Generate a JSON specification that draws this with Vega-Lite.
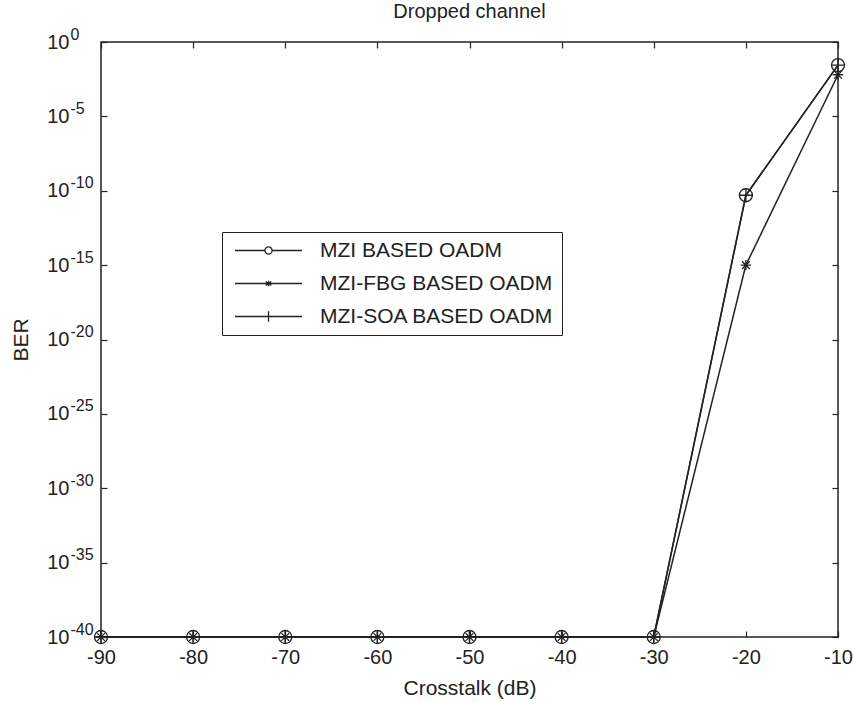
{
  "$schema": "https://vega.github.io/schema/vega-lite/v6.json",
  "width": 737,
  "height": 595,
  "autosize": "none",
  "padding": {"left": 101, "top": 42, "right": 16, "bottom": 65},
  "background": "white",
  "title": {"text": "Dropped channel", "fontSize": 20, "font": "Liberation Sans", "fontWeight": "normal", "color": "#222", "frame": "group", "anchor": "middle", "baseline": "alphabetic", "offset": -12},
  "config": {
    "view": {"stroke": "#222", "strokeWidth": 1.5},
    "font": "Liberation Sans",
    "axis": {"grid": false, "domain": false, "labelFont": "Liberation Sans", "titleFont": "Liberation Sans", "labelColor": "#222", "titleColor": "#222", "tickColor": "#222", "titleFontWeight": "normal", "labelFontSize": 20, "titleFontSize": 21, "tickSize": -6, "tickWidth": 1.2}
  },
  "data": {"values": [
    {"x": -90, "ber": 1e-40, "series": "MZI BASED OADM"},
    {"x": -80, "ber": 1e-40, "series": "MZI BASED OADM"},
    {"x": -70, "ber": 1e-40, "series": "MZI BASED OADM"},
    {"x": -60, "ber": 1e-40, "series": "MZI BASED OADM"},
    {"x": -50, "ber": 1e-40, "series": "MZI BASED OADM"},
    {"x": -40, "ber": 1e-40, "series": "MZI BASED OADM"},
    {"x": -30, "ber": 1e-40, "series": "MZI BASED OADM"},
    {"x": -20, "ber": 5e-11, "series": "MZI BASED OADM"},
    {"x": -10, "ber": 0.028, "series": "MZI BASED OADM"},
    {"x": -90, "ber": 1e-40, "series": "MZI-FBG BASED OADM"},
    {"x": -80, "ber": 1e-40, "series": "MZI-FBG BASED OADM"},
    {"x": -70, "ber": 1e-40, "series": "MZI-FBG BASED OADM"},
    {"x": -60, "ber": 1e-40, "series": "MZI-FBG BASED OADM"},
    {"x": -50, "ber": 1e-40, "series": "MZI-FBG BASED OADM"},
    {"x": -40, "ber": 1e-40, "series": "MZI-FBG BASED OADM"},
    {"x": -30, "ber": 1e-40, "series": "MZI-FBG BASED OADM"},
    {"x": -20, "ber": 1e-15, "series": "MZI-FBG BASED OADM"},
    {"x": -10, "ber": 0.0063, "series": "MZI-FBG BASED OADM"},
    {"x": -90, "ber": 1e-40, "series": "MZI-SOA BASED OADM"},
    {"x": -80, "ber": 1e-40, "series": "MZI-SOA BASED OADM"},
    {"x": -70, "ber": 1e-40, "series": "MZI-SOA BASED OADM"},
    {"x": -60, "ber": 1e-40, "series": "MZI-SOA BASED OADM"},
    {"x": -50, "ber": 1e-40, "series": "MZI-SOA BASED OADM"},
    {"x": -40, "ber": 1e-40, "series": "MZI-SOA BASED OADM"},
    {"x": -30, "ber": 1e-40, "series": "MZI-SOA BASED OADM"},
    {"x": -20, "ber": 5e-11, "series": "MZI-SOA BASED OADM"},
    {"x": -10, "ber": 0.028, "series": "MZI-SOA BASED OADM"}
  ]},
  "layer": [
    {
      "mark": {"type": "line", "color": "#222", "strokeWidth": 1.5, "clip": false},
      "encoding": {
        "x": {"field": "x", "type": "quantitative", "scale": {"domain": [-90, -10], "nice": false, "zero": false},
              "axis": {"orient": "bottom", "values": [-90, -80, -70, -60, -50, -40, -30, -20, -10], "labelExpr": "'' + datum.value", "labelPadding": 16, "labelFlush": false, "title": "Crosstalk (dB)", "titlePadding": 10}},
        "y": {"field": "ber", "type": "quantitative", "scale": {"type": "log", "domain": [1e-40, 1], "nice": false},
              "axis": {"orient": "left", "values": [1, 1e-5, 1e-10, 1e-15, 1e-20, 1e-25, 1e-30, 1e-35, 1e-40], "labelExpr": "'10'", "ticks": false, "labelPadding": 32, "labelAlign": "right", "labelBaseline": "middle", "title": "BER", "titlePadding": 15}},
        "detail": {"field": "series"}
      }
    },
    {
      "mark": {"type": "point", "filled": false, "color": "#222", "strokeWidth": 1.3, "size": 169, "opacity": 1, "clip": false},
      "encoding": {
        "x": {"field": "x", "type": "quantitative", "axis": {"orient": "top", "values": [-90, -80, -70, -60, -50, -40, -30, -20, -10], "labels": false, "title": null}},
        "y": {"field": "ber", "type": "quantitative", "scale": {"type": "log"}, "axis": {"orient": "right", "values": [1, 1e-5, 1e-10, 1e-15, 1e-20, 1e-25, 1e-30, 1e-35, 1e-40], "labels": false, "title": null}},
        "shape": {"field": "series", "type": "nominal",
                  "scale": {"domain": ["MZI BASED OADM", "MZI-FBG BASED OADM", "MZI-SOA BASED OADM"],
                            "range": ["circle", "M-0.8,0H0.8M0,-0.8V0.8M-0.6,-0.6L0.6,0.6M-0.6,0.6L0.6,-0.6", "M-1,0H1M0,-1V1"]},
                  "legend": null}
      }
    },
    {
      "mark": {"type": "point", "filled": false, "color": "#222", "opacity": 0},
      "encoding": {
        "x": {"field": "x", "type": "quantitative", "axis": null},
        "y": {"field": "ber", "type": "quantitative", "scale": {"type": "log"},
              "axis": {"orient": "left", "values": [1, 1e-5, 1e-10, 1e-15, 1e-20, 1e-25, 1e-30, 1e-35, 1e-40], "labelExpr": "'' + round(log(datum.value) / LN10)", "labelAlign": "left", "labelBaseline": "bottom", "labelPadding": 37, "labelFontSize": 16, "labelDy": -4, "title": null}},
        "shape": {"field": "series", "type": "nominal",
                  "scale": {"domain": ["MZI BASED OADM", "MZI-FBG BASED OADM", "MZI-SOA BASED OADM"],
                            "range": [
                              "M-1,0H4.45M5.75,0H11.2M4.45,0A0.65,0.65 0 1,0 5.75,0A0.65,0.65 0 1,0 4.45,0",
                              "M-1,0H11.2M5.1,-0.5V0.5M4.6,-0.35L5.6,0.35M4.6,0.35L5.6,-0.35",
                              "M-1,0H11.2M5.1,-0.95V0.95"
                            ]},
                  "legend": {"orient": "none", "legendX": 121, "legendY": 190, "title": null, "strokeColor": "#222", "fillColor": "white", "padding": 8, "labelFontSize": 21, "labelFont": "Liberation Sans", "labelColor": "#222", "labelLimit": 500, "symbolSize": 121, "labelOffset": 69, "rowPadding": 11, "symbolStrokeWidth": 1.3, "symbolOpacity": 1, "symbolStrokeColor": "#222", "symbolFillColor": "transparent"}}
      }
    }
  ],
  "resolve": {"axis": {"x": "independent", "y": "independent"}, "scale": {"shape": "independent"}}
}
